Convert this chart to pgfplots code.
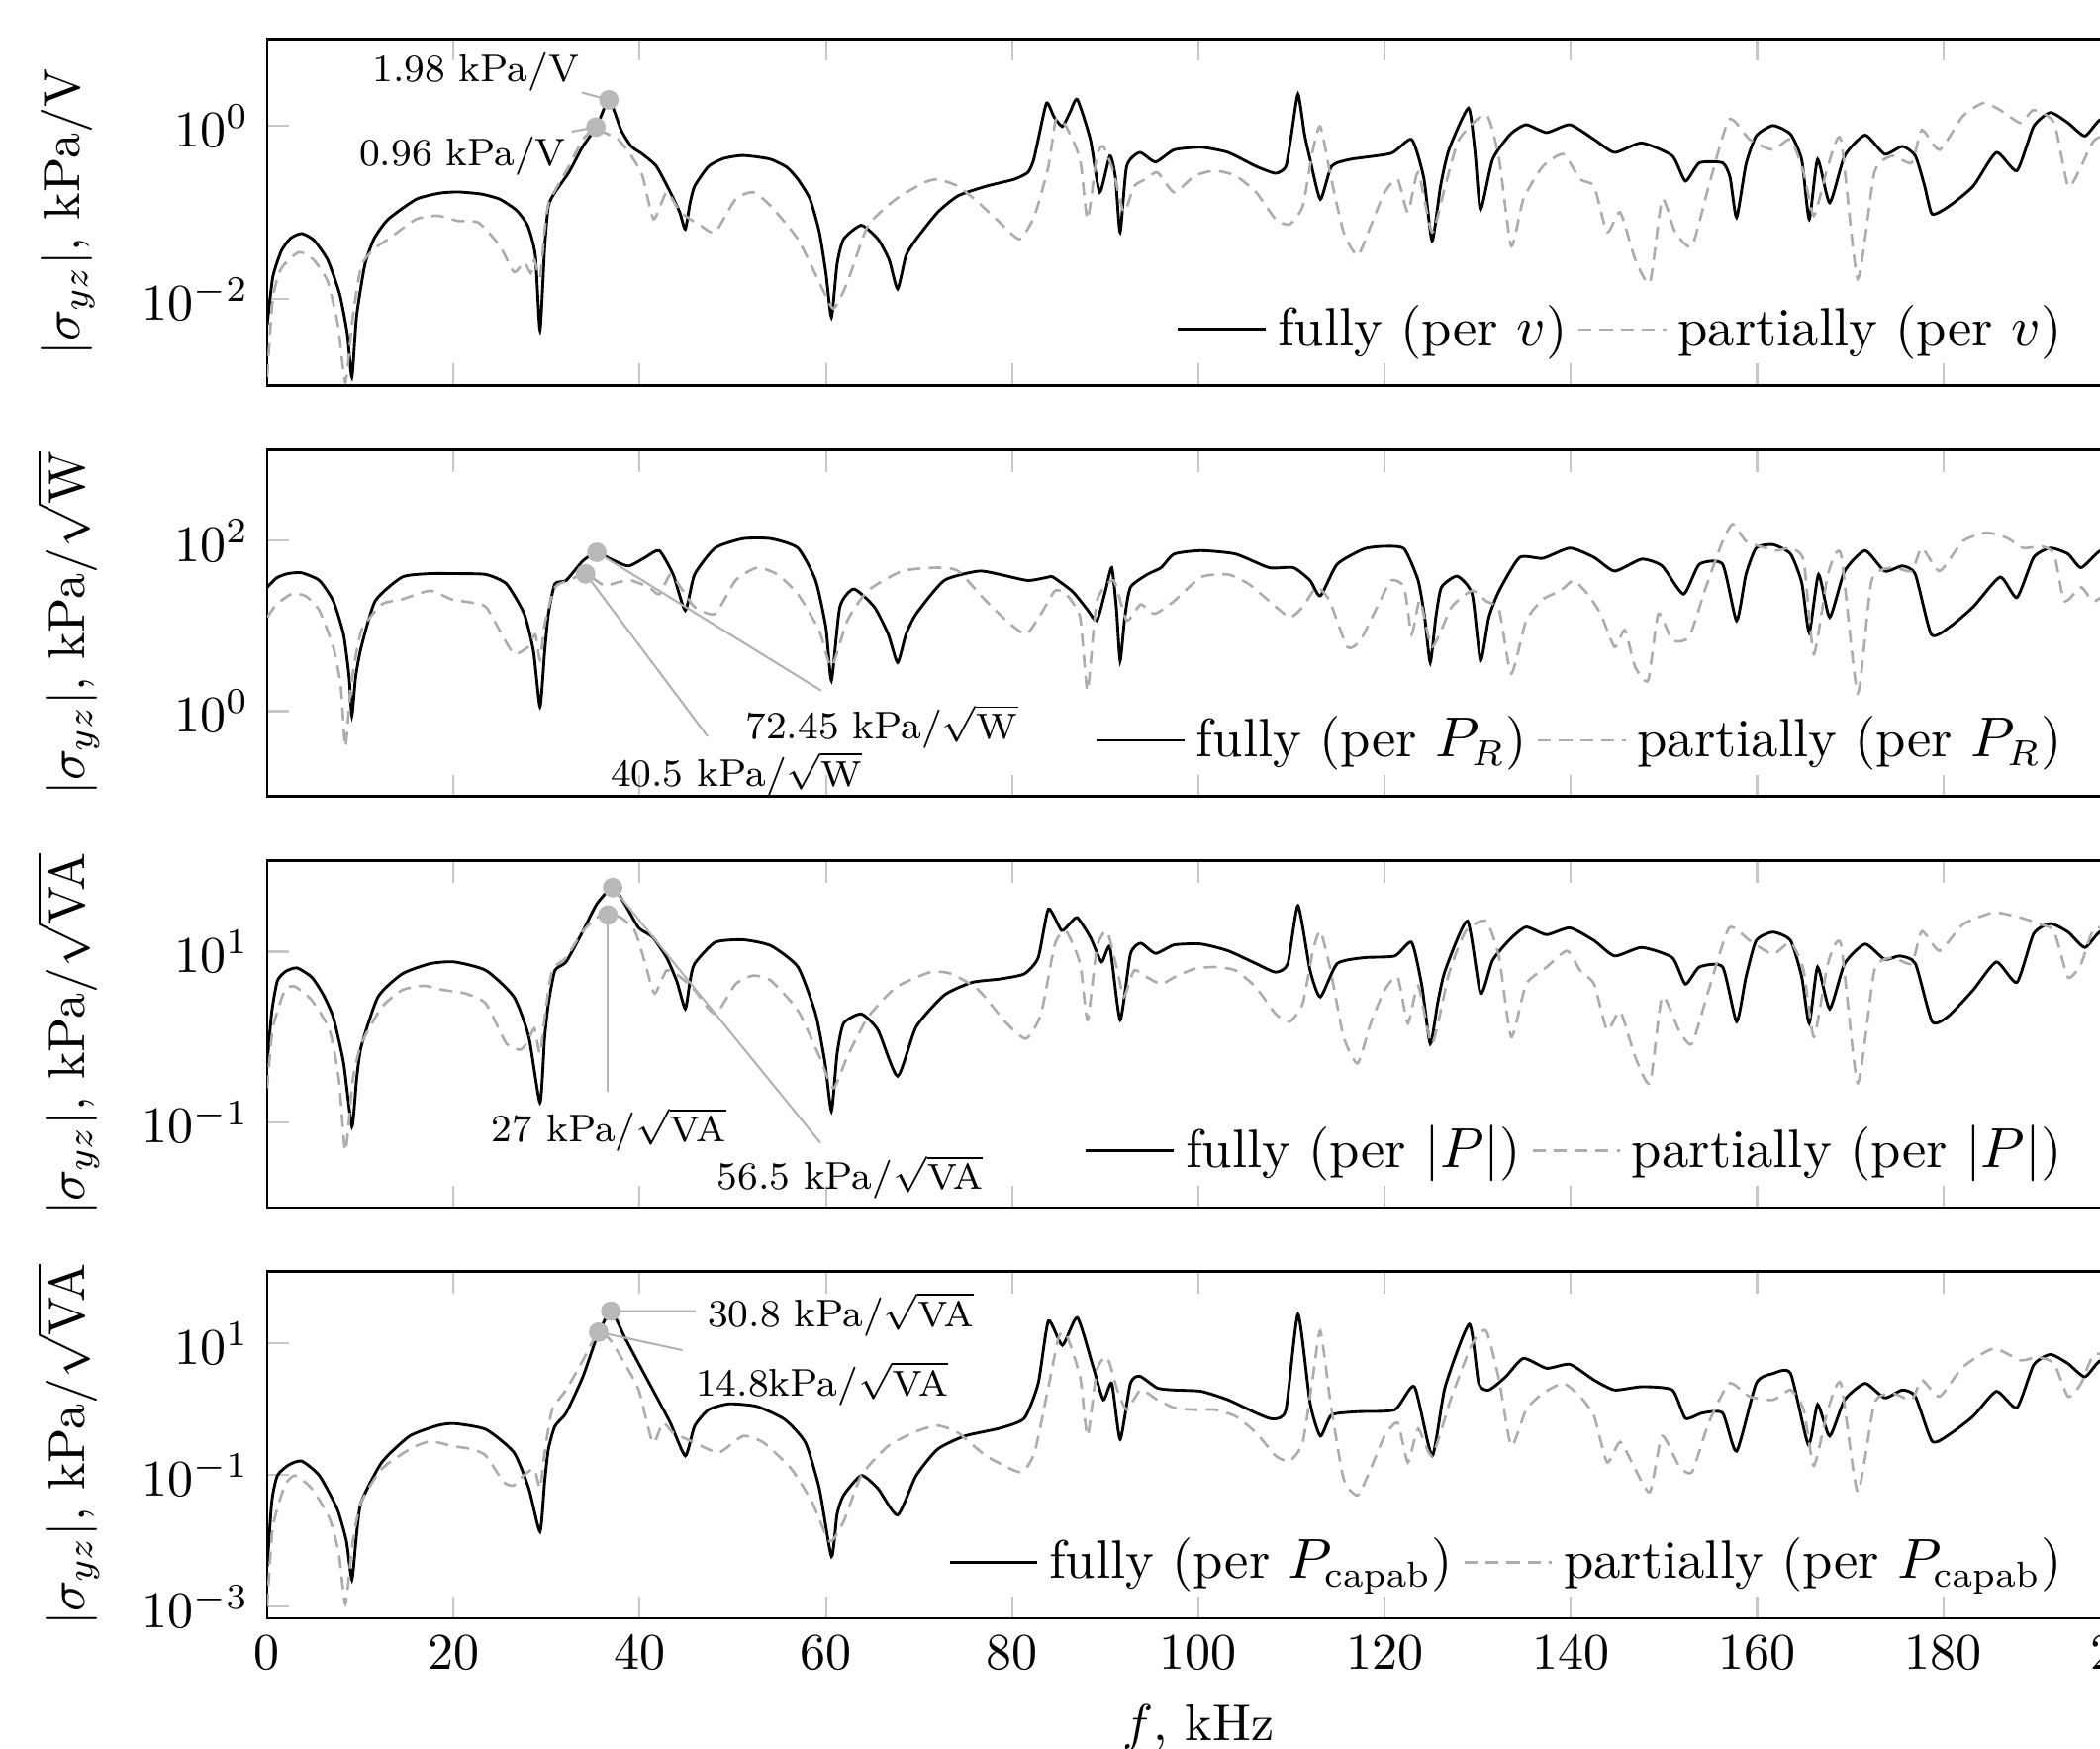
\documentclass[border=0pt]{standalone}
\usepackage{pgfplots}
\usepackage{pgfplotstable}
\pgfplotsset{compat=1.18}

% curves, stored as f [kHz] and log10 of |sigma_yz|
\pgfplotstableread{
f l
0.0 -2.3
0.6 -1.75
1.5 -1.45
2.5 -1.30
3.7 -1.245
5.0 -1.32
6.5 -1.55
7.8 -1.95
8.6 -2.4
9.1 -2.90
9.6 -2.2
10.5 -1.6
11.5 -1.3
13.0 -1.08
16.0 -0.85
18.5 -0.78
20.5 -0.766
23.0 -0.79
25.0 -0.85
26.8 -0.98
28.0 -1.16
28.8 -1.5
29.3 -2.36
29.8 -1.4
30.2 -0.93
30.9 -0.77
32.4 -0.54
33.9 -0.24
35.4 -0.01
36.7 0.297
38.0 -0.05
39.1 -0.24
40.3 -0.33
41.8 -0.47
43.3 -0.77
44.3 -1.0
44.9 -1.195
45.4 -0.9
45.9 -0.70
47.4 -0.47
49.0 -0.38
50.9 -0.345
52.5 -0.36
54.1 -0.39
55.8 -0.48
57.0 -0.62
58.3 -0.85
59.3 -1.23
60.0 -1.7
60.6 -2.21
61.2 -1.6
61.9 -1.31
63.8 -1.15
65.6 -1.31
66.8 -1.55
67.7 -1.885
68.6 -1.5
69.7 -1.31
72.0 -1.00
74.2 -0.81
77.2 -0.70
80.2 -0.62
81.7 -0.54
82.3 -0.4
82.8 -0.16
83.7 0.26
84.5 0.1
85.4 -0.01
86.2 0.15
87.0 0.30
88.4 -0.16
89.4 -0.77
90.5 -0.35
91.1 -0.6
91.6 -1.23
92.3 -0.47
93.7 -0.31
95.4 -0.42
97.4 -0.28
100.3 -0.25
103.2 -0.31
106.2 -0.47
108.3 -0.55
109.4 -0.47
110.0 -0.1
110.7 0.36
111.4 -0.1
112.0 -0.39
113.1 -0.85
114.3 -0.47
116.3 -0.39
120.7 -0.32
122.9 -0.16
124.2 -0.6
125.1 -1.33
126.0 -0.7
126.9 -0.28
129.0 0.20
129.7 -0.3
130.3 -0.97
131.6 -0.39
133.5 -0.1
135.2 0.01
137.4 -0.08
139.9 0.01
142.5 -0.16
144.7 -0.31
147.6 -0.20
150.9 -0.35
152.3 -0.64
153.8 -0.43
156.3 -0.43
157.1 -0.6
157.8 -1.06
158.8 -0.45
159.9 -0.12
161.7 0.0
163.6 -0.10
164.8 -0.4
165.6 -1.08
166.5 -0.39
167.8 -0.89
169.4 -0.35
171.6 -0.11
173.7 -0.33
175.6 -0.24
177.0 -0.35
178.0 -0.7
178.8 -1.02
180.6 -0.93
183.2 -0.70
185.7 -0.31
187.9 -0.52
189.7 -0.01
191.5 0.15
193.4 0.03
195.2 -0.12
196.9 0.07
200 0.12
}\fullv

\pgfplotstableread{
f l
0.0 -2.9
0.6 -2.0
1.5 -1.65
3.4 -1.46
5.0 -1.55
6.5 -1.8
7.6 -2.3
8.4 -2.96
9.2 -2.2
10.1 -1.62
11.5 -1.42
13.0 -1.31
16.0 -1.08
18.3 -1.04
20.5 -1.10
22.7 -1.12
25.0 -1.39
26.5 -1.69
27.6 -1.58
28.3 -1.7
28.7 -1.55
29.3 -1.75
29.8 -1.2
30.2 -0.9
30.9 -0.75
32.4 -0.47
33.9 -0.16
35.3 -0.018
36.2 -0.08
37.7 -0.16
39.1 -0.35
40.3 -0.58
41.5 -1.08
42.9 -0.77
44.4 -1.00
46.5 -1.15
48.1 -1.23
50.3 -0.85
52.2 -0.77
54.1 -0.93
57.0 -1.31
59.3 -1.81
60.8 -2.11
62.3 -1.81
64.5 -1.16
67.5 -0.85
70.5 -0.66
72.0 -0.62
74.2 -0.70
76.4 -0.89
78.5 -1.1
80.8 -1.31
82.4 -1.04
83.9 -0.47
84.7 0.07
85.8 -0.01
87.3 -0.39
88.1 -1.08
89.1 -0.35
89.8 -0.24
90.9 -0.54
92.0 -1.0
93.1 -0.70
94.3 -0.62
95.6 -0.54
97.4 -0.77
99.6 -0.58
101.8 -0.52
104.0 -0.58
106.2 -0.77
108.3 -1.08
109.8 -1.14
111.2 -0.93
112.3 -0.28
113.1 -0.01
114.2 -0.58
115.6 -1.23
117.1 -1.50
118.5 -1.16
120.0 -0.77
121.4 -0.62
122.5 -1.00
123.6 -0.54
125.1 -1.23
126.5 -0.70
128.0 -0.16
130.9 0.13
132.3 -0.39
133.6 -1.39
134.9 -0.85
137.0 -0.47
139.2 -0.33
141.0 -0.62
142.5 -0.70
143.9 -1.23
145.3 -1.0
146.9 -1.54
148.5 -1.81
149.8 -0.85
151.2 -1.23
153.0 -1.39
154.8 -0.70
157.0 0.07
159.2 -0.16
161.7 -0.28
163.6 -0.16
165.0 -0.54
166.1 -1.04
167.6 -0.47
169.0 -0.16
170.8 -1.77
172.6 -0.54
174.5 -0.35
176.6 -0.43
177.7 -0.05
179.6 -0.28
182.1 0.11
184.3 0.26
186.1 0.18
188.3 0.03
189.7 0.18
191.9 0.03
193.4 -0.70
194.8 -0.47
196.3 -0.16
200 0.0
}\partv

\pgfplotstableread{
f l
0.0 1.45
1.0 1.56
2.2 1.61
3.7 1.62
5.6 1.53
7.1 1.29
8.2 0.9
8.8 0.4
9.1 -0.05
9.5 0.4
10.1 0.75
11.6 1.29
14.5 1.57
17.5 1.61
20.5 1.61
23.5 1.60
25.7 1.49
27.6 1.14
28.6 0.7
29.3 0.05
29.8 0.7
30.2 1.14
30.9 1.49
32.1 1.53
33.9 1.76
35.4 1.86
36.9 1.78
38.8 1.70
40.6 1.80
42.1 1.88
43.6 1.60
44.9 1.18
45.9 1.60
48.1 1.91
51.1 2.02
54.1 2.02
57.0 1.91
58.9 1.53
60.0 0.98
60.6 0.36
61.5 1.22
63.0 1.43
65.2 1.22
66.7 0.9
67.7 0.57
68.6 0.9
69.7 1.14
72.7 1.53
76.4 1.64
78.7 1.60
81.7 1.53
83.9 1.57
84.4 1.57
86.5 1.40
88.0 1.2
89.1 1.06
90.0 1.4
90.7 1.68
91.2 1.2
91.6 0.59
92.1 1.1
92.7 1.45
94.5 1.60
96.0 1.68
97.4 1.84
100.3 1.88
104.0 1.84
107.6 1.68
110.2 1.68
112.0 1.53
113.1 1.35
114.9 1.72
117.8 1.90
120.0 1.93
122.1 1.90
123.6 1.53
124.3 1.1
124.9 0.57
125.5 1.1
126.1 1.45
127.8 1.58
129.4 1.37
130.3 0.59
131.2 1.1
132.3 1.41
134.5 1.80
137.0 1.79
139.9 1.91
142.5 1.80
144.7 1.64
147.6 1.78
149.8 1.70
152.1 1.37
153.8 1.72
156.3 1.72
157.8 1.06
158.8 1.6
159.9 1.91
161.7 1.95
163.6 1.84
164.8 1.5
165.6 0.92
166.6 1.60
167.8 1.10
169.4 1.64
171.6 1.88
173.7 1.64
175.6 1.70
177.0 1.60
178.7 0.90
180.6 0.98
183.2 1.22
186.1 1.57
187.9 1.33
189.7 1.80
191.5 1.91
193.4 1.84
194.8 1.68
196.9 1.88
200 1.92
}\fullr

\pgfplotstableread{
f l
0.0 1.10
1.0 1.25
2.6 1.37
4.1 1.35
5.6 1.18
7.1 0.75
7.9 0.3
8.4 -0.42
9.0 0.3
10.1 0.94
12.3 1.25
14.5 1.31
17.5 1.41
19.8 1.31
22.0 1.27
23.5 1.22
25.0 0.94
26.5 0.67
28.0 0.75
28.8 0.9
29.3 0.6
29.8 1.02
30.9 1.45
32.4 1.53
34.2 1.607
36.2 1.47
37.7 1.51
39.1 1.53
41.0 1.45
42.1 1.37
43.3 1.60
44.4 1.45
45.9 1.22
48.1 1.14
50.3 1.53
52.6 1.68
54.8 1.60
57.0 1.37
59.3 0.94
60.6 0.52
62.3 1.06
64.5 1.41
68.2 1.64
72.0 1.68
74.2 1.64
77.2 1.29
79.5 1.05
81.5 0.90
83.1 1.14
84.6 1.41
85.8 1.37
87.3 1.10
88.1 0.24
89.1 1.29
90.9 1.53
92.3 1.06
93.8 1.25
95.3 1.14
97.4 1.29
100.3 1.57
103.2 1.60
105.4 1.49
107.6 1.29
109.8 1.10
111.2 1.22
112.7 1.45
114.1 1.29
116.0 0.75
117.4 0.83
119.2 1.22
120.7 1.53
122.1 1.45
122.9 0.90
123.8 1.3
125.1 0.75
127.2 1.22
129.4 1.41
130.9 1.29
132.3 1.18
133.6 0.44
135.2 1.06
137.0 1.31
138.9 1.41
140.3 1.53
141.8 1.37
143.2 1.14
144.7 0.75
145.8 0.95
146.9 0.52
148.3 0.36
149.4 1.14
150.9 0.83
152.7 0.87
154.5 1.45
156.3 1.99
157.4 2.19
158.8 1.99
160.3 1.93
162.1 1.88
163.6 1.91
165.0 1.76
166.1 0.67
167.6 1.60
169.0 1.84
170.8 0.21
172.3 1.53
174.5 1.68
176.6 1.64
177.7 1.91
179.6 1.64
182.1 1.99
184.6 2.09
186.8 2.03
188.6 1.91
190.5 1.93
191.9 1.84
193.0 1.29
194.8 1.45
196.3 1.29
200 1.6
}\partr

\pgfplotstableread{
f l
0.0 -0.3
0.5 0.3
1.1 0.66
2.0 0.77
3.2 0.81
4.8 0.70
6.0 0.5
7.1 0.23
8.2 -0.3
9.1 -1.05
9.6 -0.5
10.1 -0.11
11.9 0.47
14.5 0.74
17.5 0.86
20.1 0.88
23.5 0.78
26.5 0.47
28.1 0.0
29.3 -0.77
29.8 0.0
30.2 0.39
30.9 0.78
32.1 0.88
33.9 1.24
35.4 1.56
37.1 1.752
38.4 1.56
39.9 1.28
41.4 1.17
42.9 0.93
44.0 0.65
44.9 0.33
45.4 0.65
45.9 0.86
48.1 1.11
51.1 1.14
54.1 1.07
57.0 0.82
58.9 0.27
59.9 -0.3
60.6 -0.87
61.2 -0.2
61.9 0.16
63.8 0.27
65.6 0.08
67.7 -0.46
69.7 0.12
72.7 0.49
75.7 0.64
78.7 0.68
81.3 0.74
82.8 0.93
83.9 1.50
85.3 1.25
86.2 1.33
87.0 1.40
88.4 1.17
89.6 0.88
90.5 1.05
91.6 0.20
92.7 0.97
93.8 1.10
95.4 0.98
97.4 1.08
100.3 1.09
103.2 1.01
106.2 0.86
108.3 0.76
109.6 0.86
110.7 1.54
112.0 0.78
113.1 0.47
114.9 0.86
117.8 0.93
121.1 0.95
122.9 1.11
124.0 0.6
124.9 -0.08
125.7 0.4
126.5 0.78
128.9 1.36
130.3 0.51
131.6 0.90
133.5 1.15
135.2 1.29
137.4 1.20
139.9 1.28
142.5 1.13
144.7 0.95
147.6 1.05
150.9 0.93
152.3 0.62
153.8 0.82
156.3 0.82
157.8 0.18
158.8 0.7
159.9 1.13
161.7 1.23
163.6 1.13
164.8 0.7
165.6 0.16
166.5 0.82
167.8 0.33
169.4 0.86
171.6 1.09
173.7 0.91
175.3 0.95
177.0 0.86
178.8 0.18
180.6 0.25
183.2 0.55
185.7 0.88
187.9 0.64
189.7 1.21
191.5 1.33
193.4 1.23
195.2 1.05
196.9 1.24
200 1.3
}\fullp

\pgfplotstableread{
f l
0.0 -0.6
0.6 0.1
1.9 0.55
3.0 0.59
4.8 0.43
6.7 0.08
7.7 -0.5
8.4 -1.34
9.2 -0.5
10.1 -0.08
12.3 0.35
14.5 0.55
16.8 0.60
19.0 0.55
21.3 0.51
23.5 0.39
25.7 -0.08
27.2 -0.15
28.0 -0.05
28.7 0.1
29.3 -0.2
29.8 0.23
30.6 0.78
32.1 0.93
33.9 1.24
35.4 1.40
36.7 1.431
38.0 1.40
39.5 1.24
40.6 0.86
41.6 0.51
42.9 0.78
44.4 0.7
45.9 0.55
48.1 0.27
50.3 0.62
52.2 0.72
54.1 0.66
57.0 0.31
59.3 -0.23
60.8 -0.60
62.3 -0.23
64.5 0.23
67.5 0.58
71.2 0.76
73.5 0.74
76.4 0.55
79.4 0.16
81.5 -0.02
83.1 0.27
84.6 1.09
85.8 1.24
87.3 0.86
88.1 0.20
89.1 1.05
90.2 1.24
91.3 0.78
92.0 0.47
93.1 0.78
94.5 0.7
96.0 0.62
97.4 0.70
99.6 0.80
101.8 0.82
104.0 0.78
106.2 0.58
108.3 0.27
109.8 0.18
111.2 0.39
112.3 1.01
113.1 1.24
114.2 0.78
115.6 0.0
117.1 -0.31
118.5 0.16
120.0 0.55
121.4 0.70
122.5 0.16
123.6 0.6
125.1 -0.08
126.9 0.74
128.7 1.24
130.9 1.36
132.3 0.93
133.6 0.0
135.2 0.62
137.4 0.82
139.6 1.01
141.0 0.78
142.5 0.62
143.9 0.08
145.3 0.3
146.9 -0.23
148.5 -0.54
149.8 0.47
151.6 0.08
153.0 -0.08
154.8 0.55
157.0 1.28
159.2 1.13
161.7 0.97
163.6 1.11
165.0 0.78
166.1 0.0
167.6 0.86
169.0 1.09
170.8 -0.54
172.6 0.78
174.5 0.93
176.6 0.86
177.7 1.24
179.6 1.01
182.1 1.32
185.4 1.46
188.3 1.40
190.5 1.32
191.9 1.24
193.4 0.70
194.8 0.86
196.3 1.28
200 1.2
}\partp

\pgfplotstableread{
f l
0.0 -2.4
0.5 -1.4
1.1 -1.01
2.3 -0.85
3.7 -0.79
5.6 -1.01
7.5 -1.51
8.5 -2.0
9.1 -2.59
9.6 -1.9
10.1 -1.41
12.3 -0.81
15.3 -0.41
18.3 -0.25
20.1 -0.22
23.5 -0.31
26.5 -0.66
28.1 -1.21
29.3 -1.86
29.8 -1.1
30.2 -0.61
30.9 -0.26
32.1 -0.06
33.9 0.49
35.4 1.09
36.9 1.489
38.4 1.09
39.9 0.69
41.8 0.19
43.3 -0.21
44.9 -0.71
45.9 -0.26
47.4 -0.01
49.6 0.08
52.6 0.04
55.6 -0.16
57.8 -0.51
59.3 -1.21
60.6 -2.24
61.2 -1.6
61.9 -1.31
63.8 -1.01
65.6 -1.21
67.7 -1.61
69.7 -1.01
72.0 -0.61
74.9 -0.41
78.7 -0.29
81.3 -0.14
82.8 0.39
83.9 1.34
85.4 0.97
87.0 1.39
88.7 0.64
89.8 0.14
90.7 0.39
91.6 -0.46
92.7 0.39
93.7 0.50
95.6 0.32
97.4 0.29
100.3 0.27
103.2 0.14
106.2 -0.06
108.0 -0.15
109.4 -0.01
110.7 1.44
112.0 0.09
113.1 -0.41
114.3 -0.09
117.1 -0.04
121.1 -0.01
123.2 0.34
125.1 -0.71
126.5 0.34
129.1 1.29
130.1 0.39
131.2 0.29
133.0 0.49
134.9 0.77
137.4 0.62
139.9 0.68
142.5 0.44
144.7 0.29
147.6 0.34
150.9 0.29
152.3 -0.14
154.1 -0.06
156.3 -0.06
157.8 -0.64
159.9 0.39
161.7 0.54
163.6 0.54
165.5 -0.54
166.5 0.07
167.8 -0.41
169.4 0.14
171.6 0.39
173.7 0.17
175.6 0.29
177.0 0.19
178.8 -0.49
180.6 -0.39
183.2 -0.11
185.7 0.27
187.9 0.02
189.7 0.67
191.5 0.83
193.4 0.69
195.2 0.49
196.9 0.74
200 0.8
}\fullc

\pgfplotstableread{
f l
0.0 -3.0
0.6 -1.8
1.9 -1.16
3.0 -1.01
4.8 -1.21
6.7 -1.66
7.7 -2.2
8.4 -2.96
9.2 -2.0
10.1 -1.41
12.3 -0.91
15.3 -0.61
17.5 -0.49
19.8 -0.56
22.0 -0.61
23.5 -0.71
25.4 -1.11
26.5 -1.16
27.6 -1.0
28.7 -0.91
29.3 -1.2
29.8 -0.66
30.6 -0.01
32.1 0.29
33.9 0.74
35.6 1.170
36.9 1.04
38.4 0.69
39.9 0.29
41.4 -0.51
42.5 -0.21
43.6 -0.36
45.9 -0.51
48.5 -0.66
51.1 -0.41
53.3 -0.51
56.3 -0.91
58.5 -1.41
60.4 -2.01
61.9 -1.71
63.8 -1.01
66.7 -0.56
69.7 -0.34
72.0 -0.25
74.2 -0.36
77.2 -0.71
80.9 -0.96
82.4 -0.66
83.9 0.34
85.0 1.09
85.8 1.14
87.3 0.49
88.1 -0.41
89.1 0.59
90.2 0.79
91.3 0.29
92.3 -0.01
93.8 0.29
95.5 0.15
97.4 0.02
99.6 -0.01
101.8 -0.01
104.0 -0.11
106.2 -0.36
108.3 -0.71
109.8 -0.79
111.2 -0.51
112.3 0.49
113.1 1.19
114.2 0.09
115.6 -1.06
117.1 -1.31
118.5 -0.91
120.0 -0.41
121.4 -0.21
122.5 -0.81
123.6 -0.3
125.1 -0.71
127.2 0.19
129.4 0.99
130.9 1.19
132.3 0.44
133.6 -0.56
135.2 -0.01
137.0 0.24
139.2 0.39
141.0 0.19
142.5 -0.11
143.9 -0.81
145.3 -0.5
146.9 -0.91
148.5 -1.26
149.8 -0.41
151.6 -0.86
153.0 -0.96
154.8 -0.21
157.0 0.39
159.2 0.19
161.7 0.14
163.6 0.29
165.0 -0.01
166.1 -0.86
167.6 -0.01
169.0 0.39
170.8 -1.26
172.6 0.09
174.5 0.24
176.6 0.14
177.7 0.44
179.6 0.19
182.1 0.64
185.4 0.92
188.3 0.74
190.1 0.79
191.9 0.69
193.4 0.19
194.8 0.39
196.3 0.84
200 0.7
}\partc

\tikzset{
  curvefull/.style={black, line width=0.55pt, smooth, tension=0.35},
  curvepart/.style={gray!65, line width=0.5pt, dash pattern=on 2.5pt off 1.6pt, smooth, tension=0.35},
  leadline/.style={gray!60, line width=0.4pt},
  pindot/.style={color=gray!55, mark=*, mark size=1.7pt,
    mark options={draw=gray!55, fill=gray!55}},
}
\newcommand\ann{\fontsize{7.5}{9}\selectfont}
\newcommand\leg{\fontsize{10.5}{12}\selectfont}

\begin{document}
\begin{tikzpicture}

% per v
\begin{axis}[scale only axis, width=361.9pt, height=67.37pt,
  at={(0pt,239.49pt)}, anchor=south west,
  ymode=log, xmin=0, xmax=200, ymin=1e-3, ymax=10,
  xtick={0,20,...,200}, ytick={1e-2,1}, yminorticks=false, xticklabels={},
  axis line style={black, line width=0.5pt},
  tick style={gray!45, line width=0.4pt},
  ylabel={$|\sigma_{yz}|$, kPa/V},
  ylabel style={at={(axis description cs:-0.107,0.5)}, anchor=center},
  legend style={draw=none, fill=none, at={(0.978,0.03)}, anchor=south east, font=\leg},
  legend columns=-1]
\addplot[curvefull] table[x=f, y expr=10^(\thisrow{l})] {\fullv};
\addplot[curvepart] table[x=f, y expr=10^(\thisrow{l})] {\partv};
\legend{fully (per $v$), partially (per $v$)}
\addplot[leadline, forget plot] coordinates {(36.7,1.98) (33.8,2.40)};
\addplot[leadline, forget plot] coordinates {(35.3,0.96) (32.7,0.85)};
\addplot[only marks, pindot, forget plot] coordinates {(36.7,1.98) (35.3,0.96)};
\node[font=\ann] at (axis cs:22.4,4.17) {1.98 kPa/V};
\node[font=\ann] at (axis cs:21.0,0.447) {0.96 kPa/V};
\end{axis}

% per P_R
\begin{axis}[scale only axis, width=361.9pt, height=67.37pt,
  at={(0pt,159.66pt)}, anchor=south west,
  ymode=log, xmin=0, xmax=200, ymin=0.1, ymax=1150,
  xtick={0,20,...,200}, ytick={1,100}, yminorticks=false, xticklabels={},
  axis line style={black, line width=0.5pt},
  tick style={gray!45, line width=0.4pt},
  ylabel={$|\sigma_{yz}|$, kPa/$\sqrt{\mathrm{W}}$},
  ylabel style={at={(axis description cs:-0.107,0.5)}, anchor=center},
  legend style={draw=none, fill=none, at={(0.978,0.03)}, anchor=south east, font=\leg},
  legend columns=-1]
\addplot[curvefull] table[x=f, y expr=10^(\thisrow{l})] {\fullr};
\addplot[curvepart] table[x=f, y expr=10^(\thisrow{l})] {\partr};
\legend{fully (per $P_R$), partially (per $P_R$)}
\addplot[leadline, forget plot] coordinates {(35.4,72.45) (59.5,1.74)};
\addplot[leadline, forget plot] coordinates {(34.2,40.5) (47.3,0.506)};
\addplot[only marks, pindot, forget plot] coordinates {(35.4,72.45) (34.2,40.5)};
\node[font=\ann] at (axis cs:66.0,0.66) {72.45 kPa/$\sqrt{\mathrm{W}}$};
\node[font=\ann] at (axis cs:50.4,0.185) {40.5 kPa/$\sqrt{\mathrm{W}}$};
\end{axis}

% per |P|
\begin{axis}[scale only axis, width=361.9pt, height=67.37pt,
  at={(0pt,79.83pt)}, anchor=south west,
  ymode=log, xmin=0, xmax=200, ymin=0.01, ymax=117,
  xtick={0,20,...,200}, ytick={0.1,10}, yminorticks=false, xticklabels={},
  axis line style={black, line width=0.5pt},
  tick style={gray!45, line width=0.4pt},
  ylabel={$|\sigma_{yz}|$, kPa/$\sqrt{\mathrm{VA}}$},
  ylabel style={at={(axis description cs:-0.107,0.5)}, anchor=center},
  legend style={draw=none, fill=none, at={(0.978,0.03)}, anchor=south east, font=\leg},
  legend columns=-1]
\addplot[curvefull] table[x=f, y expr=10^(\thisrow{l})] {\fullp};
\addplot[curvepart] table[x=f, y expr=10^(\thisrow{l})] {\partp};
\legend{fully (per $|P|$), partially (per $|P|$)}
\addplot[leadline, forget plot] coordinates {(36.6,27) (36.6,0.229)};
\addplot[leadline, forget plot] coordinates {(37.1,56.5) (59.4,0.0575)};
\addplot[only marks, pindot, forget plot] coordinates {(37.1,56.5) (36.6,27)};
\node[font=\ann] at (axis cs:36.7,0.082) {27 kPa/$\sqrt{\mathrm{VA}}$};
\node[font=\ann] at (axis cs:62.6,0.0226) {56.5 kPa/$\sqrt{\mathrm{VA}}$};
\end{axis}

% per P_capab
\begin{axis}[scale only axis, width=361.9pt, height=67.37pt,
  at={(0pt,0pt)}, anchor=south west,
  ymode=log, xmin=0, xmax=200, ymin=6.6e-4, ymax=123,
  xtick={0,20,...,200}, ytick={1e-3,1e-1,10}, yminorticks=false,
  axis line style={black, line width=0.5pt},
  tick style={gray!45, line width=0.4pt},
  xlabel={$f$, kHz},
  ylabel={$|\sigma_{yz}|$, kPa/$\sqrt{\mathrm{VA}}$},
  ylabel style={at={(axis description cs:-0.107,0.5)}, anchor=center},
  legend style={draw=none, fill=none, at={(0.978,0.03)}, anchor=south east, font=\leg},
  legend columns=-1]
\addplot[curvefull] table[x=f, y expr=10^(\thisrow{l})] {\fullc};
\addplot[curvepart] table[x=f, y expr=10^(\thisrow{l})] {\partc};
\legend{fully (per $P_{\mathrm{capab}}$), partially (per $P_{\mathrm{capab}}$)}
\addplot[leadline, forget plot] coordinates {(36.9,30.8) (46.0,30.9)};
\addplot[leadline, forget plot] coordinates {(35.6,14.8) (44.6,7.85)};
\addplot[only marks, pindot, forget plot] coordinates {(36.9,30.8) (35.6,14.8)};
\node[font=\ann] at (axis cs:61.6,27.6) {30.8 kPa/$\sqrt{\mathrm{VA}}$};
\node[font=\ann] at (axis cs:59.6,2.45) {14.8kPa/$\sqrt{\mathrm{VA}}$};
\end{axis}

\pgfresetboundingbox
\useasboundingbox (-51.92pt,-25.38pt) rectangle (356.15pt,314.42pt);
\end{tikzpicture}
\end{document}
